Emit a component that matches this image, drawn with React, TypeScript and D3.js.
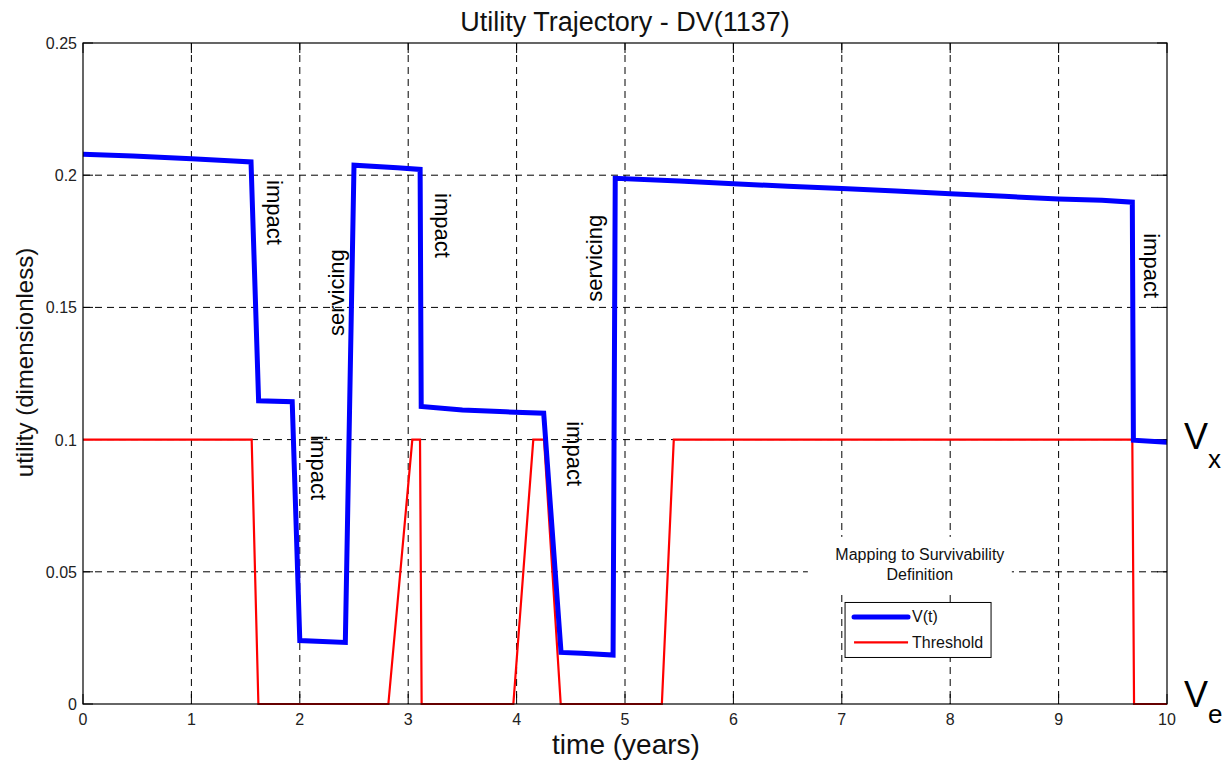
import { useEffect, useRef } from 'react';
import * as d3 from 'd3';

// V(t) trajectory, [time (years), utility]
const utilityTime = [0, 0.46, 1.0, 1.39, 1.55, 1.62, 1.93, 2.0, 2.42, 2.5, 2.9, 3.11, 3.12, 3.5, 3.9, 4.25, 4.41, 4.6, 4.89, 4.91, 5.5, 6.0, 6.5, 7.0, 7.5, 8.0, 8.5, 9.0, 9.4, 9.68, 9.69, 10];
const utilityValue = [0.2079, 0.2073, 0.2062, 0.2054, 0.205, 0.1147, 0.1143, 0.024, 0.0233, 0.2038, 0.2028, 0.2022, 0.1125, 0.1112, 0.1105, 0.11, 0.0195, 0.0192, 0.0185, 0.1988, 0.1978, 0.1968, 0.1958, 0.195, 0.194, 0.193, 0.192, 0.191, 0.1905, 0.1898, 0.0998, 0.099];

// Threshold line
const thresholdTime = [0, 1.556, 1.618, 2.817, 3.038, 3.109, 3.124, 3.97, 4.154, 4.253, 4.407, 5.34, 5.45, 9.68, 9.696, 10];
const thresholdValue = [0.1, 0.1, 0, 0, 0.1, 0.1, 0, 0, 0.1, 0.1, 0, 0, 0.1, 0.1, 0, 0];

const xTicks = [0, 1, 2, 3, 4, 5, 6, 7, 8, 9, 10];
const yTicks = [0, 0.05, 0.1, 0.15, 0.2, 0.25];

// event labels: text, x, y (data units), rotation
const eventLabels = ['impact', 'servicing', 'impact', 'impact', 'impact', 'servicing', 'impact'];
const eventX = [1.771, 2.334, 3.312, 2.177, 4.53, 4.723, 9.857];
const eventY = [0.1859, 0.1556, 0.181, 0.0894, 0.0947, 0.1686, 0.1658];
const eventRotate = [90, -90, 90, 90, 90, -90, 90];

const legendLabels = ['V(t)', 'Threshold'];
const noteLines = ['Mapping to Survivability', 'Definition'];

const FONT = "'Liberation Sans', Arial, Helvetica, sans-serif";

function UtilityChart() {
  const svgRef = useRef<SVGSVGElement | null>(null);

  useEffect(() => {
    const W = 1227;
    const H = 763;
    const margin = { top: 43, right: 60, bottom: 59, left: 83 };
    const width = W - margin.left - margin.right;
    const height = H - margin.top - margin.bottom;

    d3.select(svgRef.current).selectAll('*').remove();

    const root = d3
      .select(svgRef.current)
      .attr('width', W)
      .attr('height', H)
      .style('font-family', FONT);

    root.append('rect').attr('width', W).attr('height', H).attr('fill', '#fff');

    const svg = root.append('g').attr('transform', `translate(${margin.left},${margin.top})`);

    const x = d3.scaleLinear().domain([0, 10]).range([0, width]);
    const y = d3.scaleLinear().domain([0, 0.25]).range([height, 0]);

    // grid
    svg
      .append('g')
      .selectAll('line')
      .data(xTicks.slice(1, -1))
      .enter()
      .append('line')
      .attr('x1', (d) => x(d))
      .attr('x2', (d) => x(d))
      .attr('y1', 0)
      .attr('y2', height)
      .attr('stroke', '#000')
      .attr('stroke-width', 1)
      .attr('stroke-dasharray', '7,5');

    svg
      .append('g')
      .selectAll('line')
      .data(yTicks.slice(1, -1))
      .enter()
      .append('line')
      .attr('x1', 0)
      .attr('x2', width)
      .attr('y1', (d) => y(d))
      .attr('y2', (d) => y(d))
      .attr('stroke', '#000')
      .attr('stroke-width', 1)
      .attr('stroke-dasharray', '7,5');

    // white box behind the note text
    svg
      .append('rect')
      .attr('x', x(7.72) - 112)
      .attr('y', y(0.0564) - 18)
      .attr('width', 204)
      .attr('height', 56)
      .attr('fill', '#fff');

    // ticks (inside, all four sides)
    const tickLen = 10;
    const tickG = svg.append('g').attr('stroke', '#000').attr('stroke-width', 1);
    xTicks.forEach((t) => {
      tickG.append('line').attr('x1', x(t)).attr('x2', x(t)).attr('y1', height).attr('y2', height - tickLen);
      tickG.append('line').attr('x1', x(t)).attr('x2', x(t)).attr('y1', 0).attr('y2', tickLen);
    });
    yTicks.forEach((t) => {
      tickG.append('line').attr('x1', 0).attr('x2', tickLen).attr('y1', y(t)).attr('y2', y(t));
      tickG.append('line').attr('x1', width).attr('x2', width - tickLen).attr('y1', y(t)).attr('y2', y(t));
    });

    // tick labels
    svg
      .append('g')
      .selectAll('text')
      .data(xTicks)
      .enter()
      .append('text')
      .attr('x', (d) => x(d))
      .attr('y', height + 21)
      .attr('text-anchor', 'middle')
      .style('font-size', '16px')
      .style('fill', '#222')
      .text((d) => String(d));

    svg
      .append('g')
      .selectAll('text')
      .data(yTicks)
      .enter()
      .append('text')
      .attr('x', -6)
      .attr('y', (d) => y(d) + 6)
      .attr('text-anchor', 'end')
      .style('font-size', '16px')
      .style('fill', '#222')
      .text((d) => (d === 0 ? '0' : String(d)));

    // lines
    const thresholdData = thresholdTime.map((t, i) => [t, thresholdValue[i]] as [number, number]);
    const utilityData = utilityTime.map((t, i) => [t, utilityValue[i]] as [number, number]);
    const line = d3
      .line<[number, number]>()
      .x((d) => x(d[0]))
      .y((d) => y(d[1]));

    svg
      .append('path')
      .datum(thresholdData)
      .attr('d', line)
      .attr('fill', 'none')
      .attr('stroke', '#ff0000')
      .attr('stroke-width', 2.2);

    svg
      .append('path')
      .datum(utilityData)
      .attr('d', line)
      .attr('fill', 'none')
      .attr('stroke', '#0000ff')
      .attr('stroke-width', 5);

    // axes box
    svg
      .append('rect')
      .attr('x', 0)
      .attr('y', 0)
      .attr('width', width)
      .attr('height', height)
      .attr('fill', 'none')
      .attr('stroke', '#000')
      .attr('stroke-width', 1.2);

    // event annotations
    eventLabels.forEach((label, i) => {
      svg
        .append('text')
        .attr('transform', `translate(${x(eventX[i])},${y(eventY[i])}) rotate(${eventRotate[i]})`)
        .attr('text-anchor', 'middle')
        .attr('dominant-baseline', 'central')
        .style('font-size', '22px')
        .style('fill', '#000')
        .text(label);
    });

    // note text
    noteLines.forEach((txt, i) => {
      svg
        .append('text')
        .attr('x', x(7.72))
        .attr('y', y(i === 0 ? 0.0564 : 0.0488))
        .attr('text-anchor', 'middle')
        .attr('dominant-baseline', 'central')
        .style('font-size', '16px')
        .style('fill', '#111')
        .text(txt);
    });

    // legend
    const legend = svg.append('g').attr('transform', `translate(${x(7.03)},${y(0.0384)})`);
    legend
      .append('rect')
      .attr('width', 146)
      .attr('height', 55)
      .attr('fill', '#fff')
      .attr('stroke', '#000')
      .attr('stroke-width', 1);
    const legendColor = ['#0000ff', '#ff0000'];
    const legendWidth = [5, 2.2];
    legendLabels.forEach((lab, i) => {
      const ly = 14.5 + i * 25.5;
      legend
        .append('line')
        .attr('x1', 9)
        .attr('x2', 63)
        .attr('y1', ly)
        .attr('y2', ly)
        .attr('stroke', legendColor[i])
        .attr('stroke-width', legendWidth[i])
        .attr('stroke-linecap', i === 0 ? 'round' : 'butt');
      legend
        .append('text')
        .attr('x', 67)
        .attr('y', ly)
        .attr('dominant-baseline', 'central')
        .style('font-size', '16px')
        .style('fill', '#111')
        .text(lab);
    });

    // V_x and V_e markers on the right
    const marks = [
      { v: 0.1, sub: 'x', dy: 9, sdy: 19 },
      { v: 0, sub: 'e', dy: 3, sdy: 16 },
    ];
    marks.forEach((m) => {
      const t = svg
        .append('text')
        .attr('x', width + 17)
        .attr('y', y(m.v) + m.dy)
        .style('font-size', '36px')
        .style('fill', '#000');
      t.append('tspan').text('V');
      t.append('tspan')
        .attr('dy', m.sdy)
        .style('font-size', '26px')
        .text(m.sub);
    });

    // title
    svg
      .append('text')
      .attr('x', width / 2)
      .attr('y', -12)
      .attr('text-anchor', 'middle')
      .style('font-size', '27px')
      .style('fill', '#111')
      .text('Utility Trajectory - DV(1137)');

    // axis labels
    svg
      .append('text')
      .attr('x', width / 2 + 1)
      .attr('y', height + 50)
      .attr('text-anchor', 'middle')
      .style('font-size', '28px')
      .style('fill', '#111')
      .text('time (years)');

    svg
      .append('text')
      .attr('transform', `translate(${-50},${height / 2 - 11}) rotate(-90)`)
      .attr('text-anchor', 'middle')
      .style('font-size', '24px')
      .style('fill', '#111')
      .text('utility (dimensionless)');
  }, []);

  return <svg ref={svgRef}></svg>;
}

export default function App() {
  return (
    <div style={{ position: 'absolute', left: 0, top: 0 }}>
      <UtilityChart />
    </div>
  );
}
